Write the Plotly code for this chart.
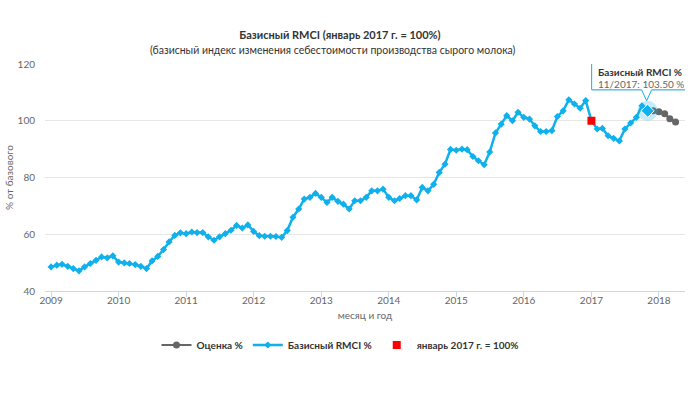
import pandas as pd
import plotly.graph_objects as go

# ---- data ----
rmci_start = "2009-01-01"
rmci_values = [
    48.5, 49.1, 49.4, 48.7, 47.9, 47.1, 48.5, 49.7, 50.8, 52.0, 51.7, 52.4,   # 2009
    50.2, 49.9, 49.7, 49.3, 48.7, 47.9, 50.6, 52.2, 54.6, 57.3, 59.6, 60.5,   # 2010
    60.2, 60.8, 60.6, 60.6, 59.1, 57.9, 59.1, 60.2, 61.4, 63.1, 62.2, 63.3,   # 2011
    61.0, 59.5, 59.3, 59.3, 59.2, 58.9, 61.3, 66.0, 68.9, 72.4, 73.0, 74.4,   # 2012
    73.0, 71.2, 73.0, 71.6, 70.6, 68.9, 71.8, 71.8, 73.0, 75.3, 75.3, 75.9,   # 2013
    73.0, 71.8, 72.6, 73.6, 73.6, 72.1, 76.5, 75.3, 77.6, 81.8, 84.7, 89.9,   # 2014
    89.6, 90.0, 89.8, 87.4, 85.9, 84.5, 89.0, 95.7, 98.8, 101.8, 100.0, 103.0,  # 2015
    101.2, 100.6, 98.2, 96.2, 96.2, 96.5, 101.5, 103.5, 107.4, 105.9, 104.4, 107.1,  # 2016
    100.0, 97.1, 97.3, 94.7, 93.8, 92.9, 97.1, 99.2, 101.2, 105.3, 103.5,  # 2017
]
estimate_start = "2017-11-01"
estimate_values = [103.5, 103.5, 103.2, 102.5, 100.7, 99.6]
base_months = ["2017-01-01"]
base_values = [100.0]
year_labels = [str(y) for y in range(2009, 2019)]
y_ticks = [40, 60, 80, 100, 120]

series_names = ["Оценка %", "Базисный RMCI %", "январь 2017 г. = 100%"]
title_text = "Базисный RMCI (январь 2017 г. = 100%)"
subtitle_text = "(базисный индекс изменения себестоимости производства сырого молока)"
x_title = "месяц и год"
y_title = "% от базового"

# ---- derived ----
rmci_x = pd.date_range(rmci_start, periods=len(rmci_values), freq="MS")
est_x = pd.date_range(estimate_start, periods=len(estimate_values), freq="MS")
year_ticks = [f"{y}-01-01" for y in year_labels]

W, H = 695, 394
ML, MR, MT, MB = 45, 10, 64, 103
PW, PH = W - ML - MR, H - MT - MB

FONT = "Lato"
BLUE = "#0fb0ec"
GREY = "#666666"
RED = "#ff0000"
TXT = "#333333"
LBL = "#666666"

fig = go.Figure()
fig.add_trace(go.Scatter(
    x=est_x, y=estimate_values, name=series_names[0], mode="lines+markers",
    line=dict(color=GREY, width=2), marker=dict(symbol="circle", size=7, color=GREY)))
fig.add_trace(go.Scatter(
    x=rmci_x, y=rmci_values, name=series_names[1], mode="lines+markers",
    line=dict(color=BLUE, width=2.5), marker=dict(symbol="diamond", size=5.5, color=BLUE)))
fig.add_trace(go.Scatter(
    x=base_months, y=base_values, name=series_names[2], mode="markers",
    marker=dict(symbol="square", size=8, color=RED)))

# hovered point (tooltip state)
hx = rmci_x[-1]
hy = rmci_values[-1]
fig.add_trace(go.Scatter(
    x=[hx], y=[hy], mode="markers", showlegend=False, hoverinfo="skip",
    marker=dict(symbol="circle", size=20, color="rgba(15,176,236,0.25)")))
fig.add_trace(go.Scatter(
    x=[hx], y=[hy], mode="markers", showlegend=False, hoverinfo="skip",
    marker=dict(symbol="diamond", size=10, color=BLUE, line=dict(color="white", width=1))))

hx_str = hx.strftime("%Y-%m-%d")
# faint shadow of the tooltip box
fig.add_shape(
    type="path", xref="x", yref="y", xsizemode="pixel", ysizemode="pixel",
    xanchor=hx_str, yanchor=hy,
    path="M-55,49 L40,49 L40,20 L-55,20 Z",
    fillcolor="rgba(0,0,0,0.08)", line=dict(width=0), layer="above")
fig.add_shape(
    type="path", xref="x", yref="y", xsizemode="pixel", ysizemode="pixel",
    xanchor=hx_str, yanchor=hy,
    path="M-56,50 L39,50 L39,21 L4,21 L-1,10 L-6,21 L-56,21 Z",
    fillcolor="rgba(255,255,255,0.97)", line=dict(color=BLUE, width=1), layer="above")
fig.add_annotation(
    x=hx_str, y=hy, xref="x", yref="y", showarrow=False, xanchor="left", yanchor="middle",
    xshift=-52, yshift=39, text=f"<b>{series_names[1]}</b>",
    font=dict(family=FONT, size=10, color=TXT))
fig.add_annotation(
    x=hx_str, y=hy, xref="x", yref="y", showarrow=False, xanchor="left", yanchor="middle",
    xshift=-52, yshift=27, text=f"{hx.strftime('%m/%Y')}: {hy:.2f} %",
    font=dict(family=FONT, size=10, color=LBL))

# subtitle (placed above the plot area)
fig.add_annotation(
    x=(333 - ML) / PW, y=1 + (MT - 50) / PH, xref="paper", yref="paper", showarrow=False,
    xanchor="center", yanchor="middle", text=subtitle_text,
    font=dict(family=FONT, size=10.5, color=TXT))

fig.update_layout(
    width=W, height=H,
    margin=dict(l=ML, r=MR, t=MT, b=MB, autoexpand=False),
    paper_bgcolor="white", plot_bgcolor="white",
    font=dict(family=FONT, color=TXT),
    title=dict(
        text=f"<b>{title_text}</b>",
        x=340 / W, xanchor="center", xref="container",
        y=1 - 35 / H, yanchor="middle", yref="container",
        font=dict(family=FONT, size=11, color=TXT)),
    showlegend=True,
    legend=dict(
        orientation="h", xref="container", x=340 / W, xanchor="center",
        yref="container", y=1 - 345 / H, yanchor="middle",
        font=dict(family=FONT, size=10, color=TXT, weight="bold"),
        itemwidth=30, tracegroupgap=0),
    xaxis=dict(
        type="date", range=["2008-11-29", "2018-05-22"],
        tickvals=year_ticks, ticktext=year_labels,
        showgrid=False, showline=True, linecolor="#ccd6eb", linewidth=1,
        ticks="outside", ticklen=5, tickcolor="#ccd6eb",
        tickfont=dict(family=FONT, size=10, color=LBL), ticklabelstandoff=-5,
        title=dict(text=x_title, standoff=6, font=dict(family=FONT, size=10, color=LBL)),
        zeroline=False, fixedrange=True, automargin=False),
    yaxis=dict(
        range=[40, 120], tickvals=y_ticks,
        showgrid=True, gridcolor="#e6e6e6", gridwidth=1,
        showline=False, zeroline=False, ticks="",
        tickfont=dict(family=FONT, size=10, color=LBL), ticklabelstandoff=9,
        title=dict(text=y_title, standoff=2, font=dict(family=FONT, size=10, color=LBL)),
        fixedrange=True, automargin=False),
)

fig.write_html("out.html", config={"displayModeBar": False},
               post_script="document.body.style.margin='0';")
